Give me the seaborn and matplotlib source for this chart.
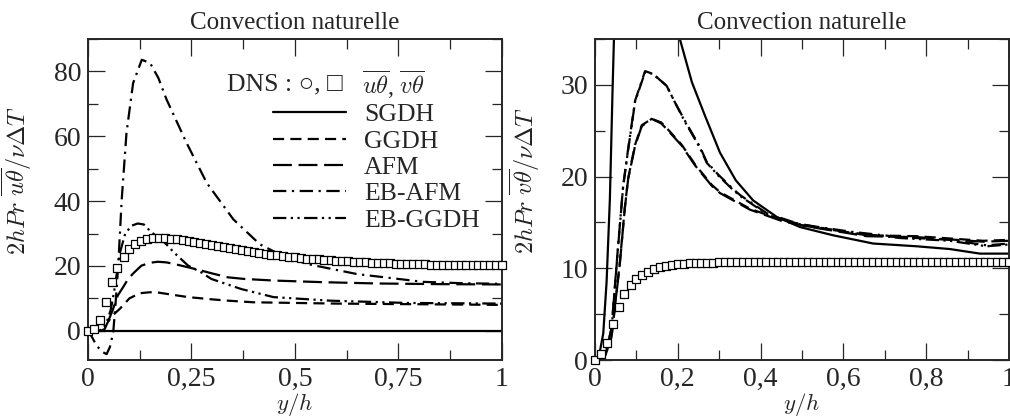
import numpy as np
import pandas as pd
import matplotlib
matplotlib.use("Agg")
import matplotlib.pyplot as plt
import seaborn as sns
from matplotlib.ticker import MultipleLocator

# DNS grid (same for both panels)
dns_x = [0.0, 0.014, 0.029, 0.043, 0.057, 0.071, 0.086, 0.1, 0.114, 0.129,
         0.143, 0.157, 0.171, 0.186, 0.2, 0.214, 0.229, 0.243, 0.257, 0.271,
         0.286, 0.3, 0.314, 0.329, 0.343, 0.357, 0.371, 0.386, 0.4, 0.414,
         0.429, 0.443, 0.457, 0.471, 0.486, 0.5, 0.514, 0.529, 0.543, 0.557,
         0.571, 0.586, 0.6, 0.614, 0.629, 0.643, 0.657, 0.671, 0.686, 0.7,
         0.714, 0.729, 0.743, 0.757, 0.771, 0.786, 0.8, 0.814, 0.829, 0.843,
         0.857, 0.871, 0.886, 0.9, 0.914, 0.929, 0.943, 0.957, 0.971, 0.986, 1.0]
dns_u = [0.0, 0.5, 3.3, 8.9, 15.2, 19.5, 22.7, 25.2, 26.8, 27.7,
         28.2, 28.5, 28.5, 28.5, 28.4, 28.2, 28.0, 27.7, 27.4, 27.1,
         26.8, 26.5, 26.2, 25.8, 25.5, 25.2, 24.9, 24.6, 24.3, 24.0,
         23.8, 23.5, 23.3, 23.1, 22.9, 22.7, 22.5, 22.3, 22.2, 22.0,
         21.9, 21.7, 21.6, 21.5, 21.4, 21.3, 21.2, 21.1, 21.0, 20.9,
         20.9, 20.8, 20.7, 20.7, 20.6, 20.6, 20.5, 20.5, 20.4, 20.4,
         20.4, 20.3, 20.3, 20.3, 20.3, 20.2, 20.2, 20.2, 20.2, 20.2, 20.2]
dns_v = [0.0, 0.7, 1.8, 3.9, 5.8, 7.2, 8.2, 8.8, 9.3, 9.6,
         9.9, 10.1, 10.3, 10.4, 10.45, 10.5, 10.55, 10.6, 10.6, 10.6,
         10.6, 10.65, 10.65, 10.65, 10.65, 10.65, 10.65, 10.65, 10.65, 10.65,
         10.65, 10.65, 10.65, 10.65, 10.65, 10.65, 10.65, 10.65, 10.65, 10.65,
         10.65, 10.65, 10.65, 10.65, 10.65, 10.65, 10.65, 10.65, 10.65, 10.65,
         10.65, 10.65, 10.65, 10.65, 10.65, 10.65, 10.65, 10.65, 10.65, 10.65,
         10.65, 10.65, 10.65, 10.65, 10.65, 10.65, 10.65, 10.65, 10.65, 10.65, 10.65]

# models, u-theta
sgdh_u_x = [0.0, 1.0]
sgdh_u = [0.0, 0.0]
ggdh_u_x = [0.0, 0.03, 0.04, 0.048, 0.06, 0.077, 0.1, 0.125, 0.15, 0.17, 0.2,
            0.242, 0.3, 0.338, 0.4, 0.5, 0.6, 0.7, 0.8, 0.9, 1.0]
ggdh_u = [0.0, 0.0, 0.5, 2.7, 4.8, 6.8, 10.0, 11.6, 11.9, 11.8, 11.2,
          10.4, 9.7, 9.3, 8.8, 8.6, 8.4, 8.3, 8.2, 8.1, 8.0]
afm_u_x = [0.0, 0.03, 0.04, 0.048, 0.06, 0.072, 0.085, 0.097, 0.11, 0.129, 0.15,
           0.169, 0.19, 0.209, 0.258, 0.3, 0.338, 0.378, 0.45, 0.568, 0.7, 0.85, 1.0]
afm_u = [0.0, 0.0, 0.5, 2.7, 6.5, 10.9, 13.5, 16.0, 17.8, 20.1, 21.0,
         21.3, 21.1, 20.6, 19.1, 17.7, 16.5, 16.0, 15.5, 15.0, 14.6, 14.4, 14.3]
ebafm_u_x = [0.0, 0.01, 0.021, 0.035, 0.045, 0.053, 0.061, 0.067, 0.073, 0.0815,
             0.093, 0.109, 0.13, 0.15, 0.17, 0.19, 0.238, 0.287, 0.351, 0.415,
             0.472, 0.53, 0.65, 0.81, 0.9, 1.0]
ebafm_u = [0.0, -2.0, -4.6, -6.5, -7.2, -5.0, -0.5, 9.0, 20.0, 40.5,
           61.0, 76.4, 83.6, 82.6, 78.0, 71.3, 58.0, 45.6, 34.4, 26.7,
           23.0, 20.6, 17.5, 15.1, 14.7, 14.5]
ebggdh_u_x = [0.0, 0.025, 0.035, 0.045, 0.055, 0.063, 0.07, 0.077, 0.09, 0.105,
              0.12, 0.135, 0.153, 0.175, 0.193, 0.209, 0.242, 0.274, 0.298, 0.37,
              0.448, 0.585, 0.77, 1.0]
ebggdh_u = [0.0, 0.0, 0.5, 2.5, 6.5, 12.0, 18.0, 24.0, 30.0, 32.4,
            33.1, 32.8, 30.4, 28.5, 26.2, 24.0, 20.1, 18.0, 16.0, 12.9,
            10.4, 9.3, 8.6, 8.4]

# models, v-theta
sgdh_v_x = [0.0, 0.008, 0.02, 0.028, 0.036, 0.042, 0.046, 0.055, 0.07, 0.1,
            0.13, 0.16, 0.18, 0.205, 0.234, 0.266, 0.302, 0.34, 0.382, 0.439,
            0.495, 0.575, 0.672, 0.777, 0.857, 0.93, 1.0]
sgdh_v = [0.0, 0.0, 2.9, 8.5, 17.6, 28.7, 35.4, 44.0, 52.0, 56.0,
          53.0, 46.0, 41.0, 35.0, 30.3, 26.6, 22.6, 19.6, 17.4, 15.6,
          14.5, 13.6, 12.7, 12.4, 12.1, 11.6, 11.6]
afm_v_x = [0.0, 0.015, 0.025, 0.04, 0.06, 0.072, 0.08, 0.097, 0.113, 0.137,
           0.16, 0.177, 0.209, 0.242, 0.282, 0.302, 0.374, 0.455, 0.535, 0.656,
           0.777, 0.938, 1.0]
afm_v = [0.0, 0.0, 0.5, 2.5, 10.5, 16.5, 19.7, 23.4, 25.5, 26.3,
         25.8, 25.0, 23.4, 21.2, 19.0, 18.2, 16.4, 15.1, 14.4, 13.5,
         13.4, 12.9, 13.0]
ggdh_v = [0.0, 0.0, 0.5, 2.6, 10.6, 16.6, 19.8, 23.5, 25.6, 26.3,
          25.9, 25.1, 23.5, 21.3, 19.1, 18.3, 16.5, 15.2, 14.5, 13.6,
          13.5, 13.0, 13.1]
ebafm_v_x = [0.0, 0.015, 0.025, 0.04, 0.055, 0.068, 0.08, 0.097, 0.121, 0.14,
             0.173, 0.193, 0.217, 0.254, 0.27, 0.298, 0.33, 0.35, 0.415, 0.495,
             0.616, 0.737, 0.857, 0.946, 1.0]
ebafm_v = [0.0, 0.0, 0.6, 3.5, 12.0, 19.0, 23.0, 28.3, 31.5, 31.2,
           29.9, 28.1, 26.1, 23.2, 21.6, 20.2, 18.8, 18.0, 16.0, 14.8,
           14.0, 13.4, 13.1, 12.5, 12.7]
ebggdh_v = [0.0, 0.0, 0.6, 3.4, 11.9, 18.9, 22.9, 28.2, 31.4, 31.2,
            29.9, 28.1, 26.0, 23.1, 21.5, 20.1, 18.7, 17.9, 15.9, 14.7,
            13.9, 13.3, 13.0, 12.4, 12.6]

models = ["SGDH", "GGDH", "AFM", "EB-AFM", "EB-GGDH"]
styles = {"SGDH": "-", "GGDH": (0, (5, 2.8)), "AFM": (0, (8.5, 3)),
          "EB-AFM": (0, (6, 2.5, 1, 2.5)),
          "EB-GGDH": (0, (6, 2, 1, 2, 1, 2))}

sns.set_style("ticks")
plt.rcParams["font.family"] = ["Liberation Serif", "DejaVu Serif"]
plt.rcParams["mathtext.fontset"] = "cm"

fig = plt.figure(figsize=(10.1, 4.16), dpi=100)
ax1 = fig.add_axes([0.0871, 0.1346, 0.4099, 0.7716])
ax2 = fig.add_axes([0.5891, 0.1346, 0.4099, 0.7716])

left = {"SGDH": (sgdh_u_x, sgdh_u), "GGDH": (ggdh_u_x, ggdh_u),
        "AFM": (afm_u_x, afm_u), "EB-AFM": (ebafm_u_x, ebafm_u),
        "EB-GGDH": (ebggdh_u_x, ebggdh_u)}
right = {"SGDH": (sgdh_v_x, sgdh_v), "GGDH": (afm_v_x, ggdh_v),
         "AFM": (afm_v_x, afm_v), "EB-AFM": (ebafm_v_x, ebafm_v),
         "EB-GGDH": (ebafm_v_x, ebggdh_v)}

for ax, series, dns, ylab in [(ax1, left, dns_u, r"$2hPr\ \overline{u\theta}/\nu\Delta T$"),
                              (ax2, right, dns_v, r"$2hPr\ \overline{v\theta}/\nu\Delta T$")]:
    sns.scatterplot(x=dns_x, y=dns, ax=ax, marker="s", s=28, facecolor="white",
                    edgecolor="black", linewidth=0.9, zorder=3, clip_on=False)
    for m in models:
        xs, ys = series[m]
        sns.lineplot(x=xs, y=ys, ax=ax, color="black", lw=1.6, sort=False,
                     estimator=None, linestyle=styles[m], label=m, legend=False)
    ax.set_xlim(0, 1)
    ax.set_title("Convection naturelle", fontsize=18, pad=7)
    ax.set_xlabel(r"$y/h$", fontsize=16.5, labelpad=-0.5)
    ax.set_ylabel(ylab, fontsize=17.5, color="#222222")
    ax.tick_params(which="both", direction="in", top=True, right=True,
                   labelsize=20, width=0.9, pad=5)
    ax.tick_params(which="major", length=12)
    ax.tick_params(which="minor", length=7)
    for sp in ax.spines.values():
        sp.set_linewidth(1.4)

ax1.set_ylim(-9, 90)
ax1.set_yticks([0, 20, 40, 60, 80])
ax1.yaxis.set_minor_locator(MultipleLocator(10))
ax1.set_xticks([0, 0.25, 0.5, 0.75, 1])
ax1.set_xticklabels(["0", "0,25", "0,5", "0,75", "1"])
ax1.xaxis.set_minor_locator(MultipleLocator(0.125))
ax1.yaxis.set_label_coords(-0.13, 0.56)

ax2.set_ylim(0, 35)
ax2.set_yticks([0, 10, 20, 30])
ax2.yaxis.set_minor_locator(MultipleLocator(5))
ax2.set_xticks([0, 0.2, 0.4, 0.6, 0.8, 1])
ax2.set_xticklabels(["0", "0,2", "0,4", "0,6", "0,8", "1"])
ax2.xaxis.set_minor_locator(MultipleLocator(0.1))
ax2.yaxis.set_label_coords(-0.128, 0.56)

# legend on the left panel
handles = ax1.get_lines()[-5:]
ax1.legend(handles=handles, labels=models, loc="upper left",
           bbox_to_anchor=(0.447, 0.80), frameon=False, fontsize=18.5,
           handlelength=2.85, handletextpad=0.7, labelspacing=0.13,
           borderpad=0, borderaxespad=0)
ax1.text(0.614, 0.857, "DNS : \u25cb, \u25a1", transform=ax1.transAxes,
         ha="right", va="center", fontsize=18.5)
ax1.text(0.662, 0.857, r"$\overline{u\theta}$, $\overline{v\theta}$",
         transform=ax1.transAxes, ha="left", va="center", fontsize=17.5)

fig.savefig("out.png", dpi=100)
